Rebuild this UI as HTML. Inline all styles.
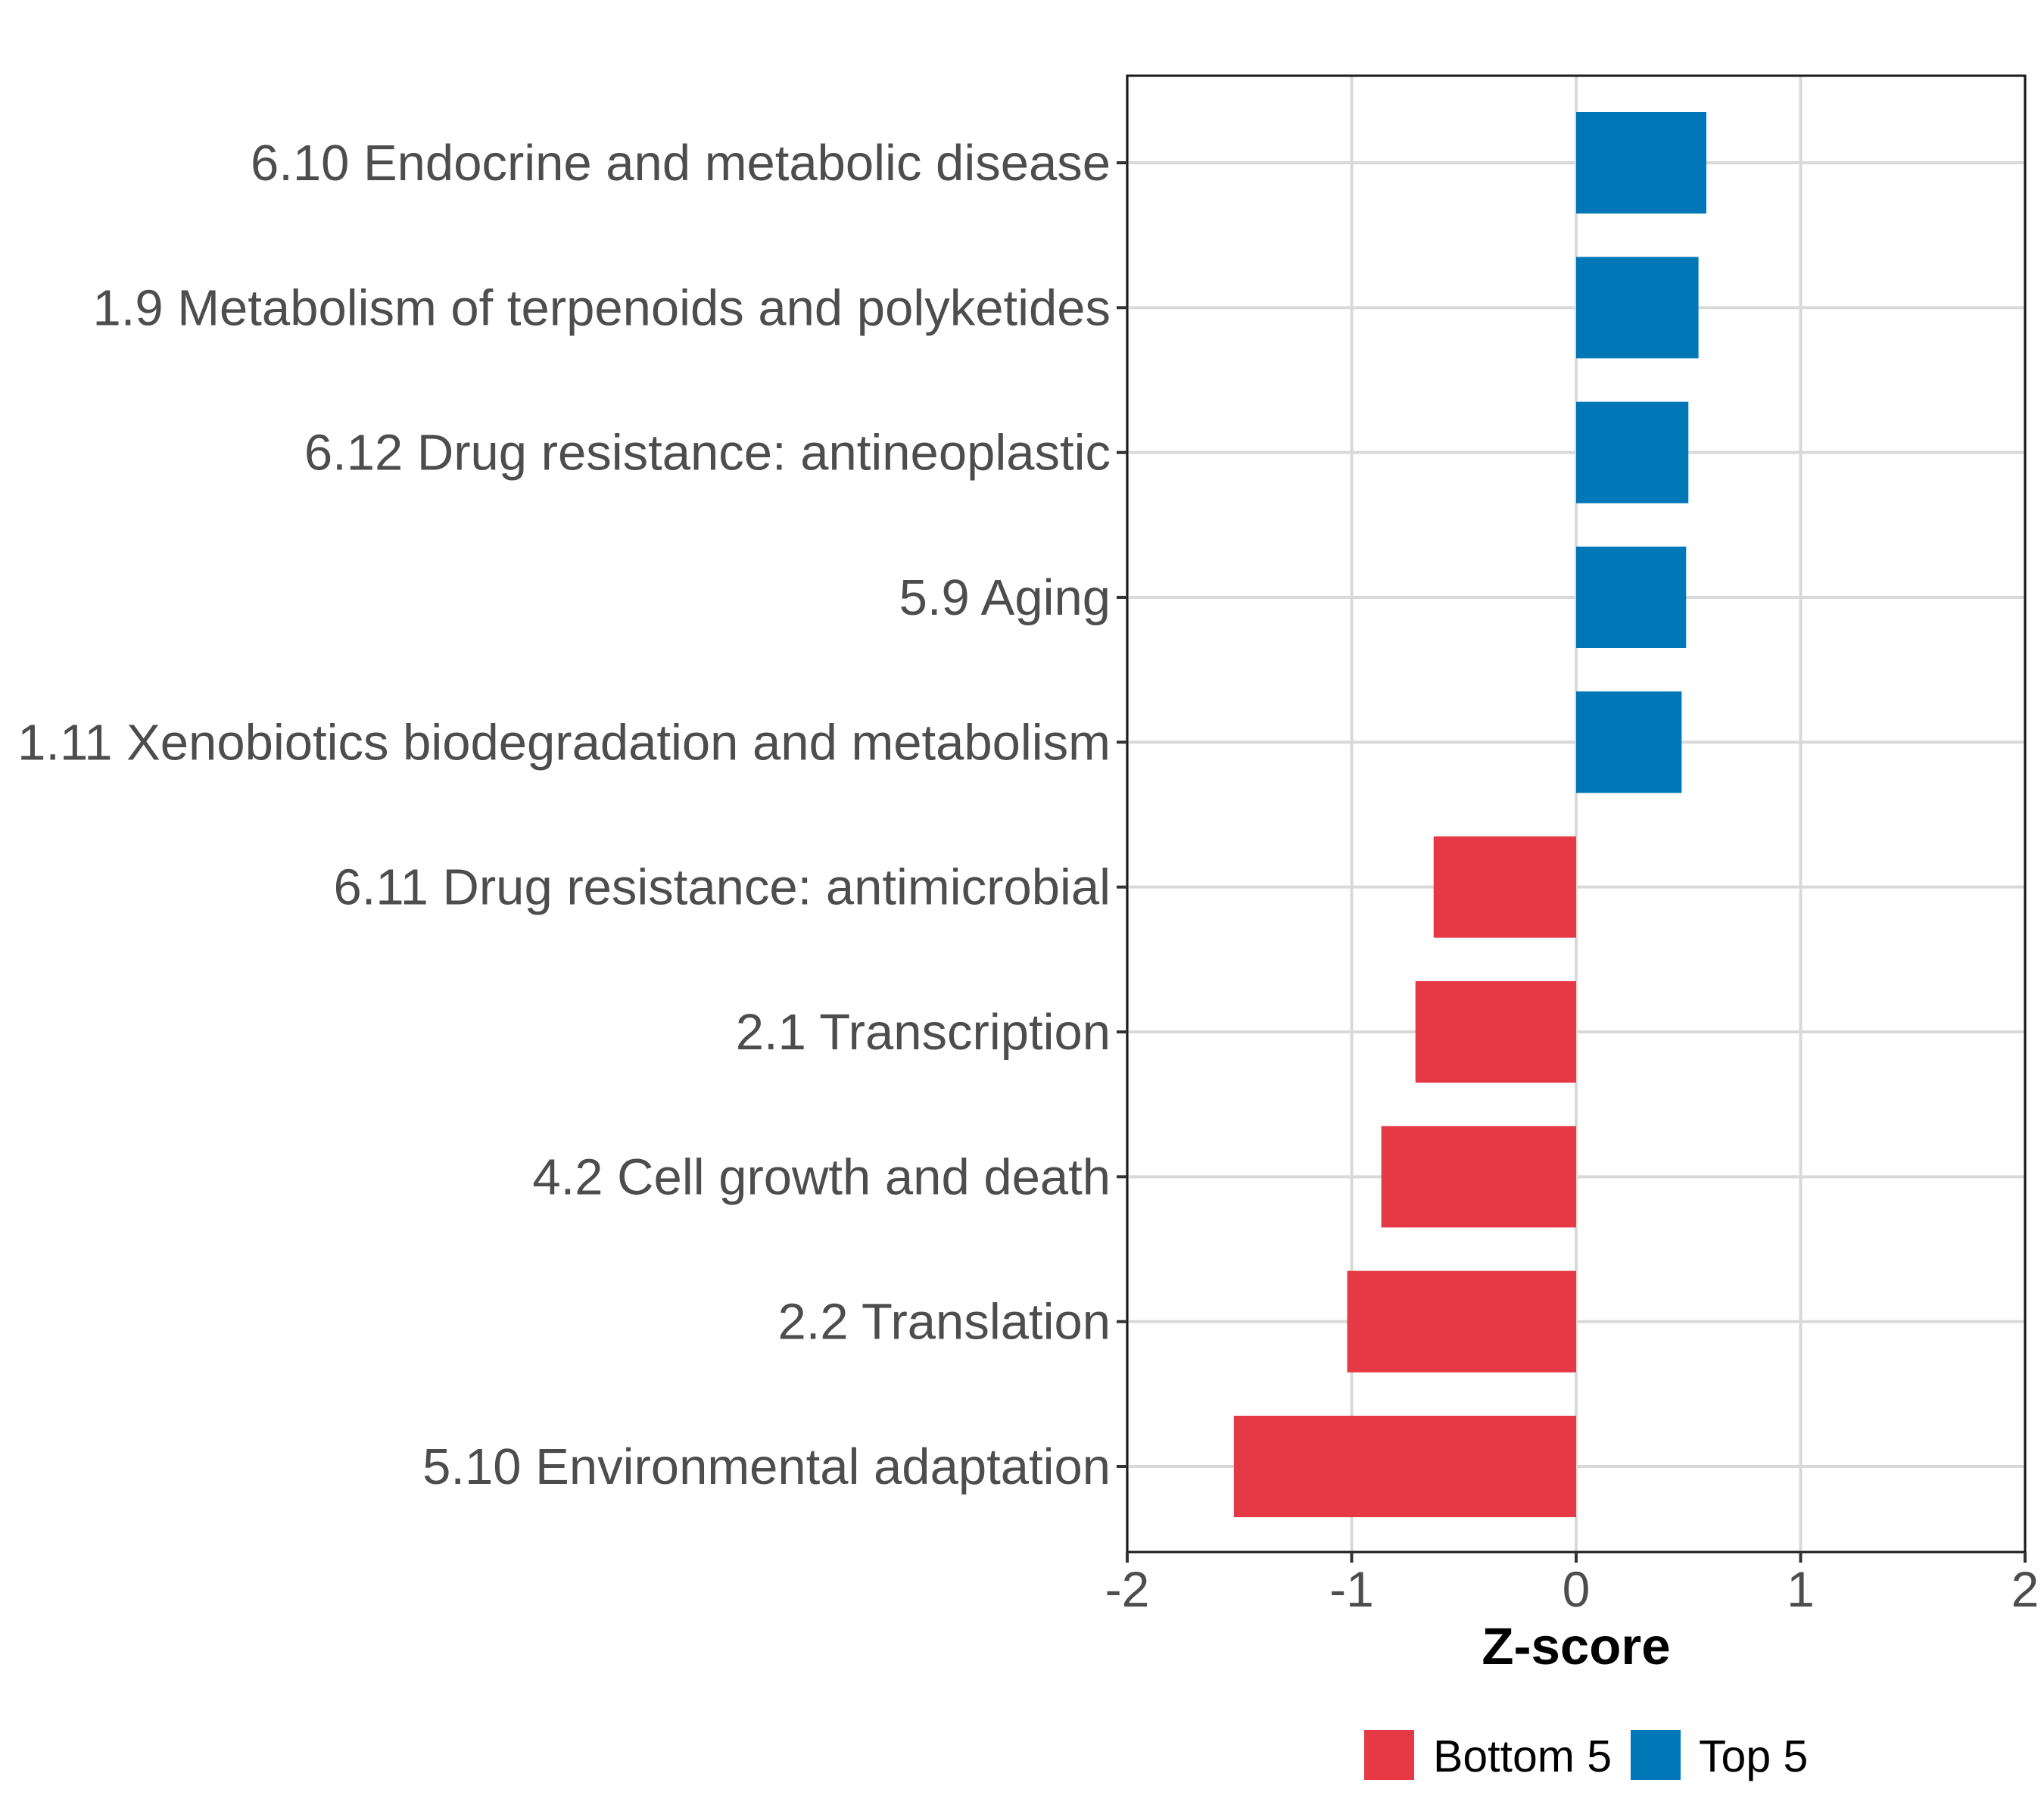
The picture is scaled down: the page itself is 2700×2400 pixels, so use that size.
<!DOCTYPE html>
<html><head><meta charset="utf-8"><style>
html,body{margin:0;padding:0;background:#fff;}
svg{display:block;font-family:"Liberation Sans",Arial,sans-serif;}
</style></head><body>
<svg id="chart" width="2700" height="2400" xmlns="http://www.w3.org/2000/svg"></svg>
<script>
const categories = ["6.10 Endocrine and metabolic disease","1.9 Metabolism of terpenoids and polyketides","6.12 Drug resistance: antineoplastic","5.9 Aging","1.11 Xenobiotics biodegradation and metabolism","6.11 Drug resistance: antimicrobial","2.1 Transcription","4.2 Cell growth and death","2.2 Translation","5.10 Environmental adaptation"];
const values = [0.58, 0.545, 0.50, 0.49, 0.47, -0.635, -0.716, -0.868, -1.02, -1.525];
const groups = ["Top 5","Top 5","Top 5","Top 5","Top 5","Bottom 5","Bottom 5","Bottom 5","Bottom 5","Bottom 5"];
const xTicks = [-2,-1,0,1,2];
const legendLabels = ["Bottom 5","Top 5"];

const NS="http://www.w3.org/2000/svg";
const svg=document.getElementById('chart');
const L=1489,R=2675,T=100,B=2050;
const xMin=-2,xMax=2;
const colors={"Bottom 5":"#e63946","Top 5":"#0077b6"};
function x(v){return L+(v-xMin)/(xMax-xMin)*(R-L);}
const firstY=215,step=(1937-215)/(categories.length-1);
function y(i){return firstY+i*step;}
const barH=134;
function mk(tag,attrs,parent){const e=document.createElementNS(NS,tag);for(const k in attrs)e.setAttribute(k,attrs[k]);(parent||svg).appendChild(e);return e;}

xTicks.forEach(t=>{
  const g=mk('line',{x1:x(t),x2:x(t),y1:T,y2:B,stroke:'#d9d9d9','stroke-width':4});
  
  
});
categories.forEach((c,i)=>{
  const g=mk('line',{x1:L,x2:R,y1:y(i),y2:y(i),stroke:'#d9d9d9','stroke-width':4});
  
  
});
values.forEach((v,i)=>{
  const x0=x(Math.min(0,v)),x1=x(Math.max(0,v));
  const r=mk('rect',{x:x0,y:y(i)-barH/2,width:x1-x0,height:barH,fill:colors[groups[i]]});
  
  
});
const pb=mk('rect',{x:L,y:T,width:R-L,height:B-T,fill:'none',stroke:'#1a1a1a','stroke-width':3});


categories.forEach((c,i)=>{
  const tk=mk('line',{x1:L-14,x2:L,y1:y(i),y2:y(i),stroke:'#333','stroke-width':4});
  
  
  const t=mk('text',{x:L-22,y:y(i)+23,'text-anchor':'end','font-size':67,fill:'#4d4d4d'});
  t.textContent=c;
  
  
});
xTicks.forEach(v=>{
  const tk=mk('line',{x1:x(v),x2:x(v),y1:B,y2:B+14,stroke:'#333','stroke-width':4});
  
  
  const t=mk('text',{x:x(v),y:B+72,'text-anchor':'middle','font-size':66,fill:'#4d4d4d'});
  t.textContent=String(v);
  
  
});
const xt=mk('text',{x:x(0),y:2198,'text-anchor':'middle','font-size':69,'font-weight':'bold',fill:'#000'});
xt.textContent='Z-score';


const lx=[1802,2154],tx=[1893,2244];
legendLabels.forEach((lab,i)=>{
  const r=mk('rect',{x:lx[i],y:2285,width:66,height:66,fill:colors[lab]});
  
  
  const t=mk('text',{x:tx[i],y:2340,'font-size':59,fill:'#000'});
  t.textContent=lab;
  
  
});
</script>
</body></html>
